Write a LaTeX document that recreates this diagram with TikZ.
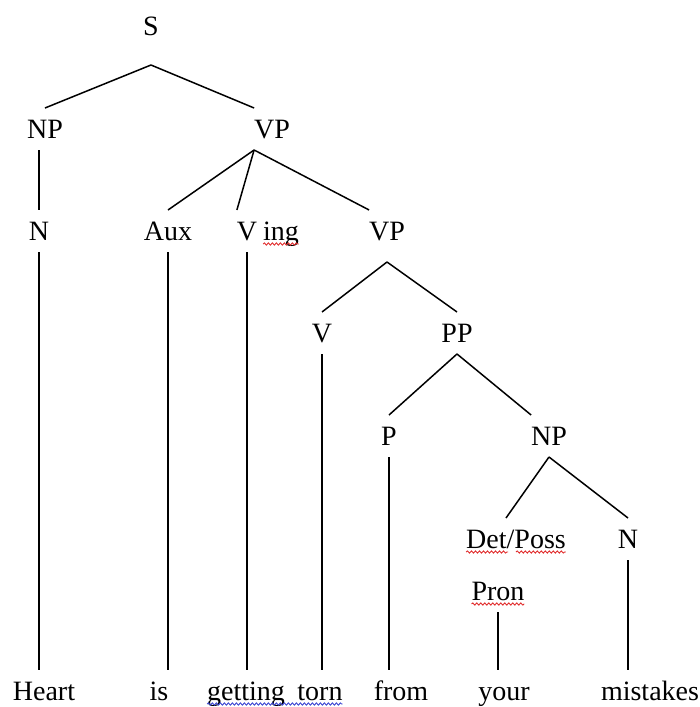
\documentclass[tikz,border=0pt]{standalone}
\usepackage{fontspec}
\setmainfont{Liberation Serif}
\usetikzlibrary{positioning, calc, decorations.pathmorphing}
\definecolor{spellred}{RGB}{225,45,45}
\definecolor{grammarblue}{RGB}{60,70,210}

\begin{document}
\begin{tikzpicture}[x=1pt, y=-1pt]
\useasboundingbox (0,0) rectangle (700,707);
%\fill[white] (0,0) rectangle (700,707);
\begin{scope}[every node/.style={inner sep=0pt, outer xsep=0pt, outer ysep=12pt,
                                 text height=18pt, text depth=0pt, anchor=base,
                                 font=\fontsize{28}{32}\selectfont}]
    \node[text depth=18pt] (S) at (151,35) {S};
    \node (NPa) at (45,138) {NP};
    \node (VPa) at (272,138) {VP};

    \node (Na) at (39,240) {N};
    \node (Aux) at (168,240) {Aux};
    \node (Vg) at (247,240) {V};
    \node (ing) [right=6pt of Vg] {ing};
    \node[text depth=10pt] (VPb) at (387,240) {VP};

    \node (Vb) at (322,342) {V};
    \node (PP) at (457,342) {PP};
    \node (P) at (389,445) {P};
    \node (NPb) at (549,445) {NP};
    \node (DP) at (516,548) {Det/Poss};
    \node (Nb) at (628,548) {N};
    \node (Pron) at (498,600) {Pron};

    \node (Heart) at (44,700) {Heart};
    \node (is) at (159,700) {is};
    \node (getting) at (246,700) {getting};
    \node (torn) at (320,700) {torn};
    \node (from) at (401,700) {from};
    \node (your) at (504,700) {your};
    \node (mistakes) at (650,700) {mistakes};
\end{scope}

\begin{scope}[every edge/.style={draw=black, line width=1.5pt}]
    \path [-] (S.south) edge (NPa.north);
    \path [-] (S.south) edge (VPa.north west);
    \path [-] (Na.north |- NPa.south) edge (Na.north);
    \path [-] (VPa.south west) edge (Aux.north);
    \path [-] (VPa.south west) edge (Vg.north west);
    \path [-] (VPa.south west) edge (VPb.north west);

    \path [-] (VPb.south) edge (Vb.north);
    \path [-] (VPb.south) edge (PP.north);
    \path [-] (PP.south) edge (P.north);
    \path [-] (PP.south) edge (NPb.north west);
    \path [-] (NPb.south) edge ([xshift=-10pt]DP.north);
    \path [-] (NPb.south) edge (Nb.north);

    \path [-] (Na.south) edge (Na.south |- Heart.north);
    \path [-] (Aux.south) edge (Aux.south |- is.north);
    \path [-] (Vg.south) edge (Vg.south |- getting.north);
    \path [-] (Vb.south) edge (Vb.south |- torn.north);
    \path [-] (P.south) edge (P.south |- from.north);
    \path [-] (Pron.south) edge (Pron.south |- your.north);
    \path [-] (Nb.south) edge (Nb.south |- mistakes.north);
\end{scope}

% spelling marks
\begin{scope}[wavy/.style={decorate, decoration={snake, amplitude=1.1pt, segment length=4pt}, line width=0.9pt}]
    \draw[wavy, spellred] ([yshift=-4pt]ing.base west) -- ([yshift=-4pt]ing.base east);
    \draw[wavy, spellred] ([yshift=-4pt]DP.base west) -- ([yshift=-4pt]$(DP.base west)!0.42!(DP.base east)$);
    \draw[wavy, spellred] ([yshift=-4pt]$(DP.base west)!0.5!(DP.base east)$) -- ([yshift=-4pt]DP.base east);
    \draw[wavy, spellred] ([yshift=-4pt]Pron.base west) -- ([yshift=-4pt]Pron.base east);
    \draw[wavy, grammarblue] ([yshift=-4pt]getting.base west) -- ([yshift=-4pt]torn.base east);
\end{scope}
\end{tikzpicture}
\end{document}
